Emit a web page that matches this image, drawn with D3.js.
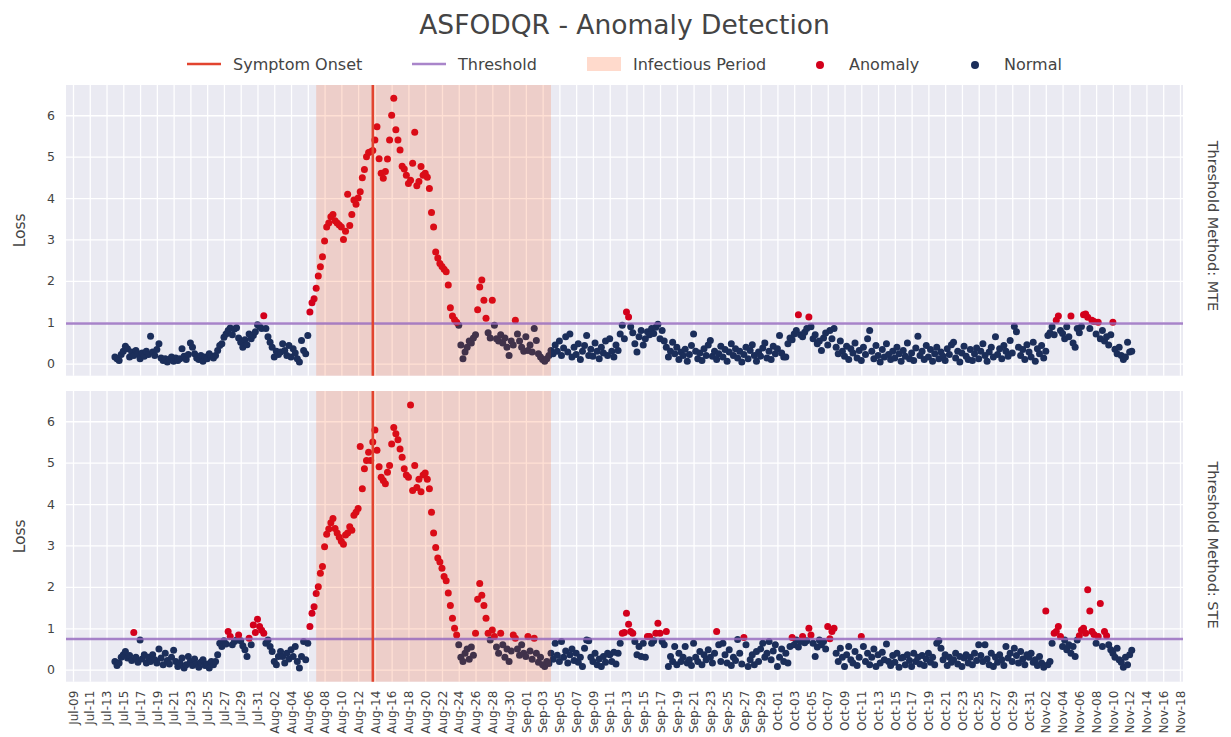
<!DOCTYPE html>
<html><head><meta charset="utf-8">
<script src="https://cdn.jsdelivr.net/npm/d3@7"></script>
<style>
body{margin:0;background:#fff}
text{font-family:"DejaVu Sans",sans-serif;fill:#444}
</style>
</head><body>
<svg id="chart" width="1231" height="737"></svg>
<script>
// ---------------- DATA ----------------
const chartTitle = "ASFODQR - Anomaly Detection";
const seriesStart = "2019-07-14T00:00";   // first sample
const stepHours = 6;                      // sampling interval
// Loss, MTE threshold method (4 samples per day, Jul-14 .. Nov-12)
const mteLoss = [
.16,.12,.08,.22, .30,.42,.36,.16, .28,.20,.32,.24, .12,.26,.18,.30, .22,.66,.28,.20,
.34,.48,.14,.08, .12,.04,.10,.16, .06,.14,.08,.12, .36,.18,.10,.22, .50,.40,.24,.14,
.10,.20,.06,.16, .12,.24,.18,.14, .20,.32,.44,.48, .64,.72,.80,.86, .70,.84,.87,.62,
.52,.40,.58,.46, .72,.60,.68,.77, .94,.90,.85,1.16, .85,.65,.52,.40, .16,.30,.22,.28,
.48,.32,.20,.44, .16,.36,.26,.12, .04,.56,.32,.24, .68,1.25,1.47,1.57, 1.82,2.12,2.34,2.58,
2.96,3.30,3.40,3.55, 3.60,3.45,3.40,3.35, 3.30,3.00,3.20,4.09, 3.34,3.60,3.95,3.85, 4.00,4.15,4.49,4.69,
5.00,5.10,5.12,5.15, 5.40,5.72,4.95,4.60, 4.48,4.64,4.94,5.40, 6.00,6.41,5.65,5.40, 5.16,4.77,4.70,4.55,
4.35,4.43,4.84,5.59, 4.30,4.40,4.76,4.55, 4.60,4.50,4.23,3.65, 3.30,2.70,2.55,2.42, 2.35,2.28,2.22,1.90,
1.35,1.15,1.06,1.00, .93,.45,.12,.28, .40,.55,.50,.62, .70,1.30,1.85,2.02, 1.53,1.10,.75,.62,
1.53,.93,.60,.55, .70,.50,.62,.40, .20,.55,.45,1.05, .72,.55,.40,.30, .65,.32,.45,.28,
.85,.56,.24,.16, .10,.06,.12,.20, .32,.24,.45,.30, .55,.20,.38,.65, .28,.72,.16,.40,
.22,.48,.10,.30, .44,.68,.20,.35, .18,.50,.30,.12, .40,.26,.55,.20, .60,.30,.16,.45,
.32,.72,.93,.60, 1.25,1.13,.89,.75, .48,.28,.65,.80, .45,.60,.77,.70, .85,.73,.88,.95,
.60,.80,.55,.40, .16,.30,.52,.24, .40,.10,.28,.20, .35,.06,.22,.44, .72,.30,.12,.26,
.08,.36,.20,.45, .56,.18,.30,.10, .24,.42,.16,.34, .06,.28,.48,.20, .36,.14,.30,.04,
.22,.40,.12,.32, .46,.20,.06,.28, .18,.38,.50,.14, .30,.10,.42,.24, .36,.68,.26,.16,
.16,.48,.62,.58, .72,.80,1.18,.70, .65,.76,.85,1.13, .89,.60,.70,.48, .55,.32,.62,.74,
.45,.80,.60,.85, .40,.24,.55,.30, .18,.42,.10,.36, .26,.50,.14,.32, .08,.40,.22,.60,
.80,.30,.12,.44, .20,.04,.34,.16, .48,.22,.10,.30, .14,.40,.24,.06, .32,.18,.50,.12,
.26,.08,.38,.66, .20,.30,.10,.44, .16,.34,.06,.24, .40,.12,.28,.18, .08,.36,.22,.46,
.52,.14,.30,.04, .26,.42,.18,.10, .34,.08,.24,.38, .12,.30,.48,.20, .06,.28,.40,.16,
.65,.22,.36,.12, .44,.30,.18,.56, .26,.90,.77,.40, .20,.34,.10,.46, .28,.16,.52,.06,
.36,.24,.44,.14, .30,.68,.75,.89, .70,1.05,1.15,.80, .73,.60,.89,.65, 1.15,.50,.40,.85,
.75,.90,1.18,1.20, 1.12,.85,1.05,1.02, .72,1.00,.60,.80, .55,.65,.45,.70, 1.00,.35,.24,.40,
.20,.10,.16,.52, .28,.30,null,null
];
// Loss, STE threshold method
const steLoss = [
.20,.10,.16,.30, .36,.44,.28,.34, .22,.90,.30,.18, .72,.26,.36,.16, .30,.20,.36,.24,
.16,.50,.28,.12, .40,.22,.14,.30, .47,.20,.08,.16, .28,.04,.12,.32, .20,.10,.26,.14,
.06,.18,.24,.10, .14,.04,.20,.12, .20,.36,.64,.56, .70,.62,.92,.80, .60,.68,.72,.84,
.70,.58,.48,.32, .76,.60,1.08,.90, 1.22,1.04,.95,.88, .64,.72,.56,.44, .20,.12,.32,.44,
.32,.16,.40,.26, .48,.32,.56,.20, .04,.32,.68,.24, .64,1.04,1.36,1.52, 1.84,2.00,2.33,2.49,
2.97,3.27,3.40,3.55, 3.65,3.41,3.30,3.20, 3.10,3.03,3.25,3.30, 3.45,3.37,3.73,3.80, 3.89,5.39,4.37,4.85,
5.05,5.25,5.05,5.50, 5.79,5.30,4.90,4.65, 4.57,4.49,4.77,4.93, 5.45,5.85,5.70,5.55, 5.33,5.13,4.85,4.70,
4.65,6.39,4.33,4.93, 4.40,4.60,4.30,4.70, 4.75,4.60,4.37,3.80, 3.30,2.95,2.70,2.60, 2.45,2.25,2.15,1.85,
1.55,1.24,1.00,.84, .60,.30,.20,.40, .50,.25,.55,.35, .88,1.70,2.08,1.80, 1.55,1.24,.88,.72,
.96,.80,.55,.40, .88,.60,.30,.50, .20,.45,.84,.76, .50,.35,.60,.40, .32,.80,.45,.25,
.76,.40,.18,.30, .12,.08,.20,.15, .40,.25,.64,.35, .20,.68,.30,.45, .16,.36,.50,.22,
.40,.18,.30,.08, .52,.72,.70,.30, .20,.40,.12,.26, .08,.32,.18,.40, .36,.20,.42,.14,
.40,.64,.88,.90, 1.36,1.10,.92,.88, .68,.36,.56,.32, .64,.30,.80,.80, .64,.70,.88,1.12,
.88,.68,.60,.92, .08,.32,.20,.56, .12,.40,.20,.30, .56,.16,.24,.10, .64,.30,.20,.44,
.12,.36,.24,.48, .30,.16,.40,.92, .60,.20,.64,.36, .16,.48,.10,.30, .22,.73,.40,.14,
.78,.60,.08,.24, .36,.12,.44,.20, .50,.64,.30,.40, .68,.24,.45,.60, .08,.30,.50,.20,
.40,.16,.56,.78, .60,.72,.55,.68, .80,.65,.70,1.00, .84,.64,.32,.55, .72,.60,.68,.50,
1.04,.75,.92,1.00, .40,.20,.52,.30, .08,.36,.56,.24, .16,.44,.10,.30, .80,.56,.20,.40,
.12,.30,.50,.08, .36,.16,.42,.24, .62,.20,.10,.34, .18,.40,.06,.28, .30,.12,.36,.22,
.08,.40,.20,.30, .14,.34,.10,.26, .40,.18,.30,.12, .64,.70,.52,.24, .36,.10,.30,.18,
.24,.40,.14,.32, .08,.28,.36,.16, .30,.12,.40,.22, .60,.34,.20,.60, .26,.12,.40,.08,
.30,.18,.36,.24, .10,.56,.28,.40, .20,.52,.34,.16, .44,.26,.12,.36, .30,.40,.18,.24,
.10,.32,.16,.06, 1.42,.12,.20,.64, .88,.92,1.04,.80, .56,.72,.48,.60, .40,.56,.32,.72,
.82,.95,1.00,.88, 1.93,1.42,.92,.85, .64,.80,1.60,.56, .92,.82,.60,.48, .40,.30,.52,.24,
.18,.06,.30,.12, .36,.47,null,null
];
const mteThreshold = 0.97;
const steThreshold = 0.74;
const infectiousPeriod = ["2019-08-07T00:00", "2019-09-04T00:00"];
const symptomOnset = "2019-08-13T18:00";
const panelLabels = ["Threshold Method: MTE", "Threshold Method: STE"];
const yTicks = [0, 1, 2, 3, 4, 5, 6];
const yDomain = [-0.29, 6.73];
const xDomain = ["2019-07-08T04:00", "2019-11-18T08:40"];
const xTickRange = ["2019-07-09T00:00", "2019-11-19T00:00"];
const xTickStepDays = 2;
const legendLabels = ["Symptom Onset", "Threshold", "Infectious Period", "Anomaly", "Normal"];

// ---------------- STYLE ----------------
const C = {
  bg: "#eaeaf2", grid: "#ffffff", normal: "#1b2e5a", anomaly: "#d3001c",
  onset: "#e2442f", threshold: "#9467bd", period: "#ff4500"
};
const periodOpacity = 0.17;
const L = 66, R = 1183;
const panelsGeom = [{top: 85, bottom: 375.7, labelY: 226}, {top: 391, bottom: 681.7, labelY: 545}];

const parseT = d3.timeParse("%Y-%m-%dT%H:%M");
const t0 = parseT(seriesStart);
const svg = d3.select("#chart");

const x = d3.scaleTime().domain(xDomain.map(parseT)).range([L, R]);
const xTicks = d3.timeDay.range(parseT(xTickRange[0]), parseT(xTickRange[1]), xTickStepDays);
const fmt = d3.timeFormat("%b-%d");

const series = [
  {loss: mteLoss, thr: mteThreshold, label: panelLabels[0]},
  {loss: steLoss, thr: steThreshold, label: panelLabels[1]}
];

series.forEach((s, pi) => {
  const g = panelsGeom[pi];
  const y = d3.scaleLinear().domain(yDomain).range([g.bottom, g.top]);
  const pg = svg.append("g");
  pg.append("rect").attr("x", L).attr("y", g.top).attr("width", R - L).attr("height", g.bottom - g.top).attr("fill", C.bg);

  // grids
  const gx = pg.append("g").attr("transform", `translate(0,${g.bottom})`)
    .call(d3.axisBottom(x).tickValues(xTicks).tickSize(-(g.bottom - g.top)).tickFormat(""));
  gx.select(".domain").remove();
  gx.selectAll("line").attr("stroke", C.grid).attr("stroke-width", 1.3);

  const gy = pg.append("g").attr("transform", `translate(${L},0)`)
    .call(d3.axisLeft(y).tickValues(yTicks).tickSize(-(R - L)).tickPadding(11).tickFormat(d3.format("d")));
  gy.select(".domain").remove();
  gy.selectAll("line").attr("stroke", C.grid).attr("stroke-width", 1.3);
  gy.selectAll("text").attr("font-size", 12.5).attr("fill", "#444").attr("font-family", '"DejaVu Sans",sans-serif');

  // points
  const pts = s.loss.map((v, i) => ({t: d3.timeHour.offset(t0, i * stepHours), v})).filter(d => d.v != null);
  const normal = pts.filter(d => d.v <= s.thr), anom = pts.filter(d => d.v > s.thr);
  pg.append("g").selectAll("circle").data(normal).join("circle")
    .attr("cx", d => x(d.t)).attr("cy", d => y(d.v)).attr("r", 3.5).attr("fill", C.normal);
  pg.append("g").selectAll("circle").data(anom).join("circle")
    .attr("cx", d => x(d.t)).attr("cy", d => y(d.v)).attr("r", 3.5).attr("fill", C.anomaly);

  // infectious period
  const p0 = x(parseT(infectiousPeriod[0])), p1 = x(parseT(infectiousPeriod[1]));
  pg.append("rect").attr("x", p0).attr("y", g.top).attr("width", p1 - p0).attr("height", g.bottom - g.top)
    .attr("fill", C.period).attr("fill-opacity", periodOpacity);

  // threshold
  pg.append("line").attr("x1", L).attr("x2", R).attr("y1", y(s.thr)).attr("y2", y(s.thr))
    .attr("stroke", C.threshold).attr("stroke-opacity", 0.8).attr("stroke-width", 2.5);
  // onset
  const ox = x(parseT(symptomOnset));
  pg.append("line").attr("x1", ox).attr("x2", ox).attr("y1", g.top).attr("y2", g.bottom)
    .attr("stroke", C.onset).attr("stroke-width", 2.5);

  // labels
  pg.append("text").attr("transform", `translate(20,${(g.top + g.bottom) / 2}) rotate(-90)`)
    .attr("text-anchor", "middle").attr("dominant-baseline", "central").attr("font-size", 15.5).text("Loss");
  pg.append("text").attr("transform", `translate(1213,${g.labelY}) rotate(90)`)
    .attr("text-anchor", "middle").attr("dominant-baseline", "central").attr("font-size", 14.5).text(s.label);

  if (pi === 1) {
    const ax = pg.append("g").attr("transform", `translate(0,${g.bottom})`)
      .call(d3.axisBottom(x).tickValues(xTicks).tickSize(0).tickFormat(fmt));
    ax.select(".domain").remove();
    ax.selectAll("text").attr("transform", "rotate(-90)").attr("text-anchor", "end")
      .attr("x", -9).attr("y", 0).attr("dy", "0.35em").attr("font-size", 12)
      .attr("fill", "#444").attr("font-family", '"DejaVu Sans",sans-serif');
  }
});

// title
svg.append("text").attr("x", (L + R) / 2).attr("y", 34).attr("text-anchor", "middle")
  .attr("font-size", 26.5).text(chartTitle);

// legend
const legX = [187, 412, 587, 803, 958], legY = 64;
const lg = svg.append("g");
legendLabels.forEach((lab, i) => {
  const mx = legX[i];
  if (i === 0 || i === 1) {
    lg.append("line").attr("x1", mx).attr("x2", mx + 34).attr("y1", legY).attr("y2", legY)
      .attr("stroke", i === 0 ? C.onset : C.threshold).attr("stroke-opacity", i === 0 ? 1 : 0.8).attr("stroke-width", 2.5);
  } else if (i === 2) {
    lg.append("rect").attr("x", mx).attr("y", legY - 7).attr("width", 34).attr("height", 14)
      .attr("fill", C.period).attr("fill-opacity", periodOpacity + 0.03);
  } else {
    lg.append("circle").attr("cx", mx + 17).attr("cy", legY + 1).attr("r", 4)
      .attr("fill", i === 3 ? C.anomaly : C.normal);
  }
  lg.append("text").attr("x", mx + 46).attr("y", legY).attr("dominant-baseline", "central")
    .attr("font-size", 16).text(lab);
});
</script>
</body></html>
